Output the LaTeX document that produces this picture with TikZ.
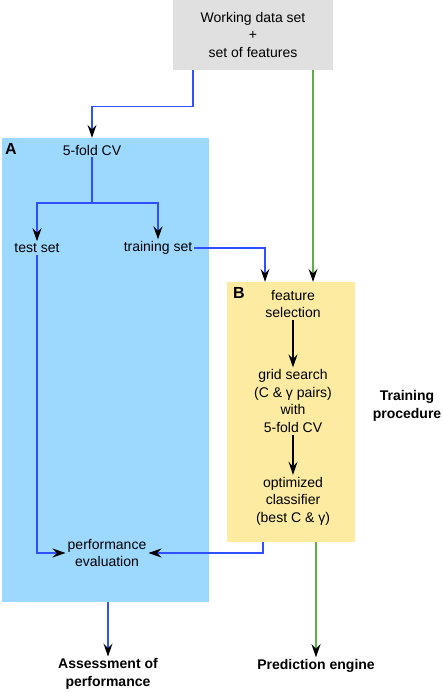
\documentclass[tikz,border=0pt]{standalone}
\usepackage{fontspec}
\setmainfont{Liberation Sans}
\usepackage{tikz}
\usetikzlibrary{arrows.meta, positioning, calc}
\definecolor{boxgrey}{HTML}{E0E0E0}
\definecolor{boxblue}{HTML}{9DD8FF}
\definecolor{boxyellow}{HTML}{FCEBA0}
\definecolor{lineblue}{HTML}{3050FF}
\definecolor{linegreen}{HTML}{5CB043}
\tikzstyle{zone} = [rectangle, inner sep = 0pt, draw = none]
\tikzstyle{etape} = [align = center, inner sep = 2pt]
\tikzstyle{titre} = [align = center, inner sep = 2pt, font = \fontsize{14}{17.5}\selectfont\bfseries]
\tikzstyle{lettre} = [inner sep = 0pt, font = \fontsize{16}{18}\selectfont\bfseries]
\tikzstyle{bleu} = [draw = lineblue, line width = 1.1pt, -{Stealth[black, length = 13pt, width = 9pt, inset = 4.5pt]}]
\tikzstyle{vert} = [draw = linegreen, line width = 1.1pt, -{Stealth[black, length = 13pt, width = 9pt, inset = 4.5pt]}]
\tikzstyle{noir} = [draw = black, line width = 1.3pt, -{Stealth[black, length = 13pt, width = 9pt, inset = 4.5pt]}]

\begin{document}
\begin{tikzpicture}[x = 1pt, y = -1pt, font = \fontsize{14}{17.5}\selectfont]
\useasboundingbox (0,0) rectangle (443,692);

% zones
\node (data) [zone, fill = boxgrey, minimum width = 160pt, minimum height = 70pt, align = center] at (253,35) {Working data set\\+\\set of features} ;
\node (A) [zone, fill = boxblue, minimum width = 207pt, minimum height = 464pt] at (105.5,370) {} ;
\node (B) [zone, fill = boxyellow, minimum width = 128pt, minimum height = 260pt] at (291,412) {} ;
\node (la) [lettre, anchor = north west] at (5,143) {A} ;
\node (lb) [lettre, anchor = north west] at (233,287) {B} ;

% etapes
\node (cv) [etape] at (92,150) {5-fold CV} ;
\node (test) [etape] at (37,248) {test set} ;
\node (train) [etape] at (158,248) {training set} ;
\node (feat) [etape] at (293,304) {feature\\selection} ;
\node (grid) [etape] at (293,401) {grid search\\(C \& γ pairs)\\with\\5-fold CV} ;
\node (opt) [etape] at (293,501) {optimized\\classifier\\(best C \& γ)} ;
\node (eval) [etape] at (107,553) {performance\\evaluation} ;
\node (proc) [titre] at (407,406) {Training\\procedure} ;
\node (assess) [titre] at (108,674) {Assessment of\\performance} ;
\node (pred) [titre] at (316,666) {Prediction engine} ;

% liaisons
\coordinate (split) at (92,203) ;
\draw[bleu] ([xshift = -60pt]data.south) -- ++(0,36) -| (cv |- A.north) ;
\draw[bleu, -] (cv.south) -- (split) ;
\draw[bleu] (split) -| (test.north) ;
\draw[bleu] (split) -| (train.north) ;
\draw[bleu] (train.east) -| ([xshift = -26pt]B.north) ;
\draw[vert] ([xshift = 60pt]data.south) -- ([xshift = 22pt]B.north) ;
\draw[noir] (feat.south) -- (grid.north) ;
\draw[noir] (grid.south) -- (opt.north) ;
\draw[bleu] (test.south) |- (eval.west) ;
\draw[bleu] ([xshift = -28pt]B.south) |- (eval.east) ;
\draw[vert] (B.south -| pred.north) -- (pred.north) ;
\draw[bleu] (assess |- A.south) -- (assess.north) ;
\end{tikzpicture}
\end{document}
